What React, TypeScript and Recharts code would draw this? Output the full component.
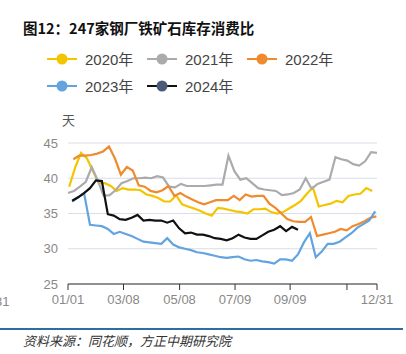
import React from 'react';
import { LineChart, Line, XAxis, YAxis, CartesianGrid } from 'recharts';

const years = ['2020年', '2021年', '2022年', '2023年', '2024年'];
const lineColors = ['#F5C400', '#ABABAB', '#F08A2E', '#62A3E0', '#111111'];
const dotColors = ['#F5C400', '#ABABAB', '#F08A2E', '#62A3E0', '#4B5A78'];
// first observation, in weeks after 01/01
const seriesStart = [0.2, 0, 0.9, 0.7, 0.7];

const v2020 = [38.8, 41.5, 43.6, 42.8, 41.0, 39.3, 39.3, 38.9, 38.2, 38.6, 38.4, 38.4, 38.3, 37.7, 37.5, 37.2, 36.7, 36.7, 37.6, 36.3, 36.0, 35.7, 35.4, 35.0, 34.7, 35.8, 35.7, 35.5, 35.3, 35.2, 35.0, 35.6, 35.6, 35.7, 35.2, 35.0, 35.2, 35.7, 36.2, 36.8, 37.8, 38.7, 36.0, 36.2, 36.4, 36.8, 36.6, 37.5, 37.7, 37.8, 38.6, 38.2];
const v2021 = [37.9, 38.2, 38.8, 39.5, 41.6, 39.7, 37.5, 37.6, 38.3, 39.3, 39.6, 40.0, 40.0, 40.1, 40.0, 40.3, 40.1, 38.8, 38.7, 39.2, 38.9, 38.9, 38.9, 38.9, 39.0, 39.1, 39.1, 43.2, 41.0, 39.8, 40.0, 39.3, 38.6, 38.4, 38.3, 38.2, 37.6, 37.7, 37.9, 38.4, 40.0, 38.5, 39.2, 39.5, 39.8, 43.0, 42.7, 42.5, 42.0, 41.8, 42.4, 43.7, 43.6];
const v2022 = [42.7, 43.2, 43.2, 43.3, 43.5, 43.8, 44.5, 42.8, 40.5, 41.6, 41.1, 39.0, 38.8, 38.2, 38.0, 38.3, 38.9, 37.5, 37.9, 37.4, 37.0, 36.6, 36.3, 36.6, 36.9, 36.9, 36.9, 37.5, 36.9, 37.7, 37.4, 37.5, 37.5, 36.4, 35.8, 35.0, 34.2, 33.9, 33.8, 33.8, 34.5, 31.8, 32.0, 32.2, 32.4, 32.8, 32.6, 33.2, 33.5, 33.9, 34.4, 34.6];
const v2023 = [36.7, 37.3, 37.9, 33.4, 33.3, 33.2, 32.8, 32.1, 32.4, 32.1, 31.8, 31.4, 31.0, 30.9, 30.8, 30.7, 31.5, 30.6, 30.2, 30.0, 29.8, 29.5, 29.4, 29.2, 29.0, 28.8, 28.7, 28.8, 28.9, 28.5, 28.3, 28.4, 28.2, 28.1, 27.9, 28.5, 28.5, 28.3, 29.2, 30.9, 32.2, 28.8, 29.6, 30.7, 30.7, 31.0, 31.6, 32.2, 33.0, 33.5, 34.0, 35.3];
const v2024 = [36.8, 37.3, 37.9, 38.6, 39.7, 39.6, 34.9, 34.7, 34.2, 34.1, 34.4, 34.8, 34.0, 34.1, 34.0, 34.0, 33.7, 34.0, 32.9, 32.2, 32.3, 32.0, 32.0, 31.8, 31.5, 31.4, 31.2, 31.5, 32.0, 31.6, 31.4, 31.4, 31.9, 32.4, 32.7, 33.2, 32.5, 33.1, 32.7];
const allValues = [v2020, v2021, v2022, v2023, v2024];

const xTickWeeks = [0, 9.34, 18.78, 28.11, 37.38, 46.94, 52];
const xTickLabels = ['01/01', '03/08', '05/08', '07/09', '09/09', '', '12/31'];
const yTicks = [25, 30, 35, 40, 45];

const series = allValues.map((vals, s) =>
  vals.map((v, i) => ({ week: seriesStart[s] + i, value: v }))
);

const sans = "'Liberation Sans', 'Noto Sans CJK SC', sans-serif";

const LegendItem = ({ idx }: { idx: number }) => (
  <div style={{ display: 'flex', alignItems: 'center', width: 100 }}>
    <svg width={32} height={14} style={{ marginRight: 6 }}>
      <line x1={0} y1={7} x2={30} y2={7} stroke={lineColors[idx]} strokeWidth={2} />
      <circle cx={15} cy={7} r={5.5} fill={dotColors[idx]} />
    </svg>
    <span style={{ fontSize: 15, color: '#444' }}>{years[idx]}</span>
  </div>
);

export default function App() {
  return (
    <div style={{ position: 'absolute', left: 0, top: 0, width: 406, height: 354, background: '#fff', fontFamily: sans, overflow: 'hidden' }}>
      <div style={{ position: 'absolute', left: 23, top: 17, fontSize: 14.5, fontWeight: 'bold', color: '#111', fontFamily: "'Noto Sans CJK SC', sans-serif" }}>
        图12：247家钢厂铁矿石库存消费比
      </div>
      <div style={{ position: 'absolute', left: 47, top: 48 }}>
        <div style={{ display: 'flex' }}>
          <LegendItem idx={0} />
          <LegendItem idx={1} />
          <LegendItem idx={2} />
        </div>
        <div style={{ display: 'flex', marginTop: 6 }}>
          <LegendItem idx={3} />
          <LegendItem idx={4} />
        </div>
      </div>
      <div style={{ position: 'absolute', left: 62, top: 110, fontSize: 13, color: '#555' }}>天</div>
      <div style={{ position: 'absolute', left: -23, top: 294, fontSize: 13, color: '#888' }}>12/31</div>
      <div style={{ position: 'absolute', left: 0, top: 0 }}>
        <LineChart width={406} height={354} margin={{ top: 143, right: 29, bottom: 40, left: 8 }}>
          <CartesianGrid vertical={false} stroke="#D8DDE8" strokeWidth={1} />
          <XAxis
            dataKey="week"
            type="number"
            domain={[0, 52]}
            ticks={xTickWeeks}
            tickFormatter={(v: number) => xTickLabels[xTickWeeks.indexOf(v)]}
            interval={0}
            allowDuplicatedCategory={false}
            stroke="#333"
            tickLine={{ stroke: '#333' }}
            tickSize={6}
            tickMargin={5}
            tick={{ fill: '#888', fontSize: 13 }}
            height={30}
          />
          <YAxis
            domain={[25, 45]}
            ticks={yTicks}
            axisLine={false}
            tickLine={false}
            width={60}
            tickMargin={4}
            tick={{ fill: '#888', fontSize: 13 }}
          />
          {series.map((d, s) => (
            <Line
              key={years[s]}
              data={d}
              dataKey="value"
              type="linear"
              stroke={lineColors[s]}
              strokeWidth={2.2}
              dot={false}
              isAnimationActive={false}
            />
          ))}
        </LineChart>
      </div>
      <div style={{ position: 'absolute', left: 0, top: 328, width: 403, height: 2, background: '#2E6DA4' }} />
      <div style={{ position: 'absolute', left: 23, top: 331, fontSize: 13, fontStyle: 'italic', color: '#333', fontFamily: "'Noto Sans CJK SC', sans-serif" }}>
        资料来源：同花顺，方正中期研究院
      </div>
    </div>
  );
}
